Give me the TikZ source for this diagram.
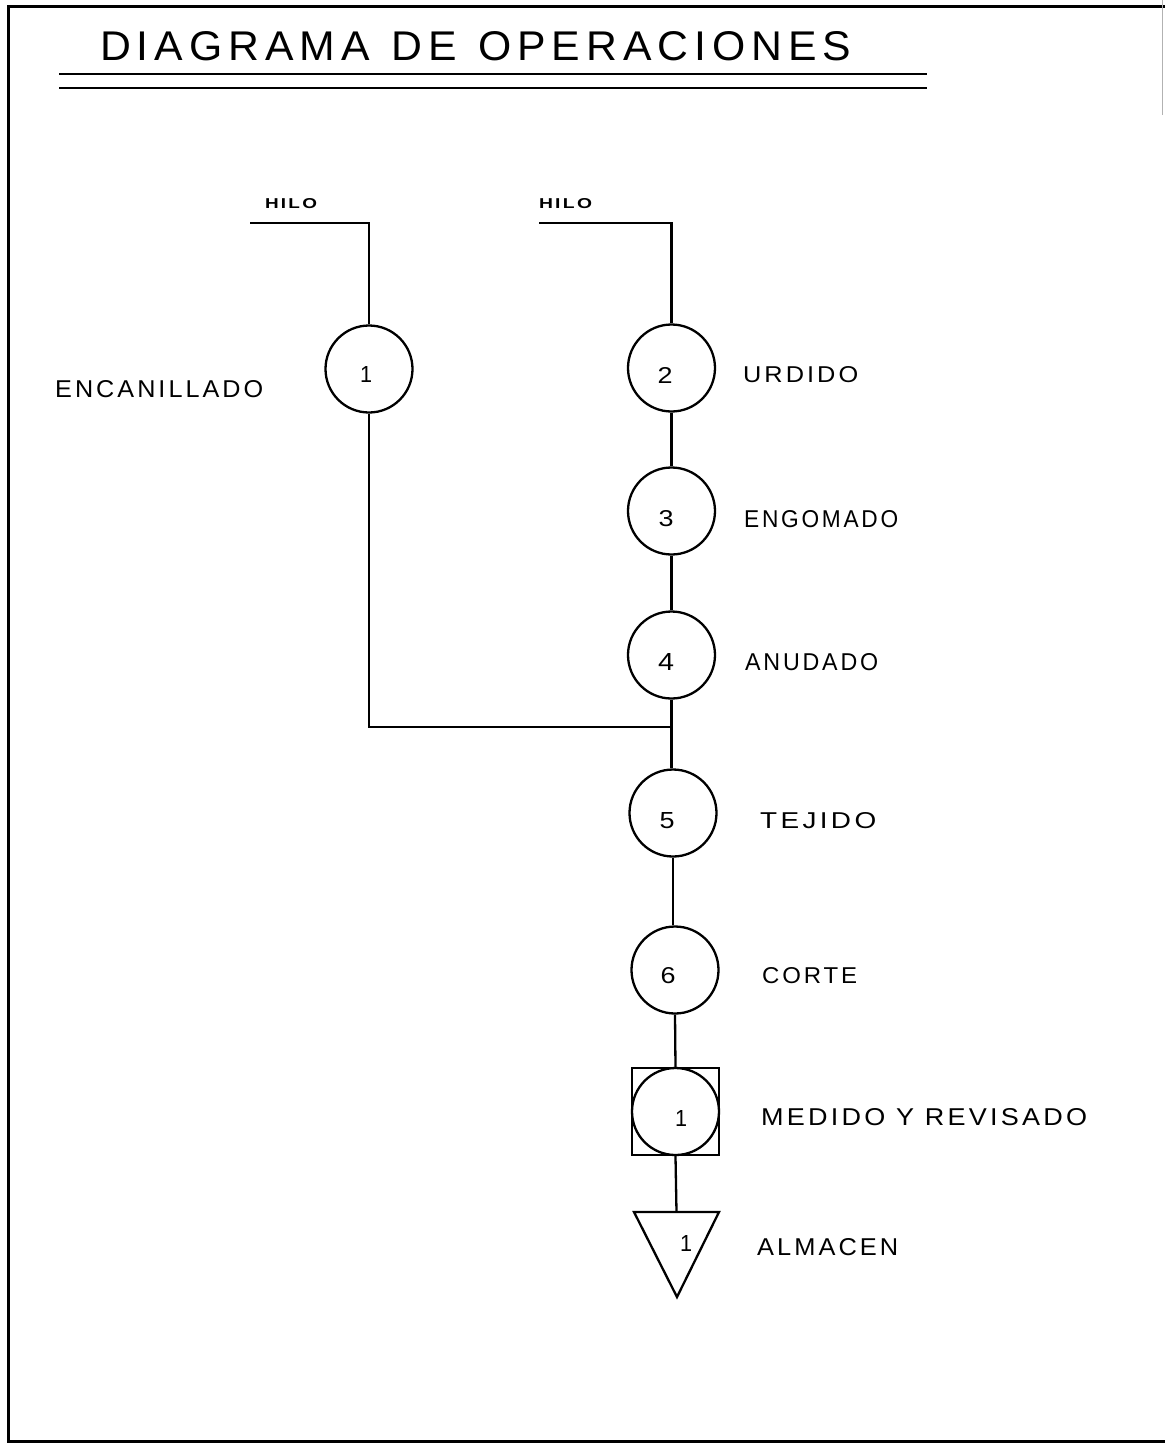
\documentclass[tikz,border=0pt]{standalone}
\usepackage{fontspec}
\usepackage{graphicx}
\setmainfont{Liberation Sans}
\newfontfamily\spacedfont[LetterSpace=12]{Liberation Sans}
\newfontfamily\titlefont[LetterSpace=14]{Liberation Sans}
\newcommand{\fitbox}[3]{\resizebox{#1pt}{#2pt}{#3}}
\begin{document}
\begin{tikzpicture}[x=1pt,y=-1pt,
  op/.style={circle,draw,line width=2.3pt,minimum size=87pt,inner sep=0pt},
  insp/.style={rectangle,draw,line width=2.3pt,minimum size=87pt,inner sep=0pt},
  lbl/.style={anchor=west,inner sep=0pt},
  hilo/.style={inner sep=0pt},
  num/.style={inner sep=0pt},
  link/.style={line width=2.3pt},
  frame/.style={line width=3pt}]
\useasboundingbox (0,0) rectangle (1165,1444);
% frame
\draw[frame] (1165,6) -- (8,6) -- (8,1441) -- (1165,1441);
\draw[gray!60,line width=1pt] (1162,0) -- (1162,115);
% title
\node[lbl] (title) at (100,46.5) {\fitbox{751}{29}{\titlefont DIAGRAMA\hspace{0.5em}DE\hspace{0.5em}OPERACIONES}};
\draw[line width=2.5pt] (59,74) -- (927,74);
\draw[line width=2.5pt] (59,88) -- (927,88);
% inputs
\node[hilo] (hilo1) at (291,204) {\fitbox{52}{10}{\spacedfont\bfseries HILO}};
\node[hilo] (hilo2) at (565.5,204) {\fitbox{53}{10}{\spacedfont\bfseries HILO}};
\coordinate (h1) at (250,223);
\coordinate (h2) at (539,223);
% operations
\node[op] (c1) at (369,369) {};
\node[op] (c2) at (671.5,368) {};
\node[op] (c3) at (671.5,511) {};
\node[op] (c4) at (671.5,655) {};
\node[op] (c5) at (673,813) {};
\node[op] (c6) at (675,970) {};
\node[insp] (sq) at (675.5,1111.5) {};
\node[op] (c7) at (675.5,1111.5) {};
\coordinate (t1) at (634,1212);
\coordinate (t2) at (719,1212);
\coordinate (tapex) at (677,1297);
\coordinate (ttop) at (676.5,1212);
\draw[link,line join=miter] (t1) -- (t2) -- (tapex) -- cycle;
% numbers
\node[num] (n1) at (366,374) {\fitbox{12}{16}{1}};
\node[num] (n2) at (665,375) {\fitbox{15}{16}{2}};
\node[num] (n3) at (666,519) {\fitbox{15}{16}{3}};
\node[num] (n4) at (666,662) {\fitbox{16}{17}{4}};
\node[num] (n5) at (667,821) {\fitbox{15}{16}{5}};
\node[num] (n6) at (668,976) {\fitbox{15}{16}{6}};
\node[num] (n7) at (681,1118) {\fitbox{12}{16}{1}};
\node[num] (n8) at (686,1243) {\fitbox{12}{16}{1}};
% labels
\node[lbl] (l1) at (55,389) {\fitbox{208}{17}{\spacedfont ENCANILLADO}};
\node[lbl] (l2) at (743,375) {\fitbox{115}{16}{\spacedfont URDIDO}};
\node[lbl] (l3) at (744,519) {\fitbox{154}{17}{\spacedfont ENGOMADO}};
\node[lbl] (l4) at (745,662) {\fitbox{133}{17}{\spacedfont ANUDADO}};
\node[lbl] (l5) at (760,821) {\fitbox{116}{16}{\spacedfont TEJIDO}};
\node[lbl] (l6) at (762,976) {\fitbox{95}{16}{\spacedfont CORTE}};
\node[lbl] (l7) at (761,1117) {\fitbox{326}{17}{\spacedfont MEDIDO Y REVISADO}};
\node[lbl] (l8) at (757,1247) {\fitbox{141}{17}{\spacedfont ALMACEN}};
% connectors
\coordinate (j) at (672,727);
\draw[link] (h1) -| (c1.north);
\draw[link] (h2) -| (c2.north);
\draw[link] (c2.south) -- (c3.north);
\draw[link] (c3.south) -- (c4.north);
\draw[link] (c4.south) -- (c4.south |- c5.north);
\draw[link] (c1.south) |- (j);
\draw[link] (c5.south) -- (c5.south |- c6.north);
\draw[link] (c6.south) -- (sq.north);
\draw[link] (sq.south) -- (ttop);
\end{tikzpicture}
\end{document}
